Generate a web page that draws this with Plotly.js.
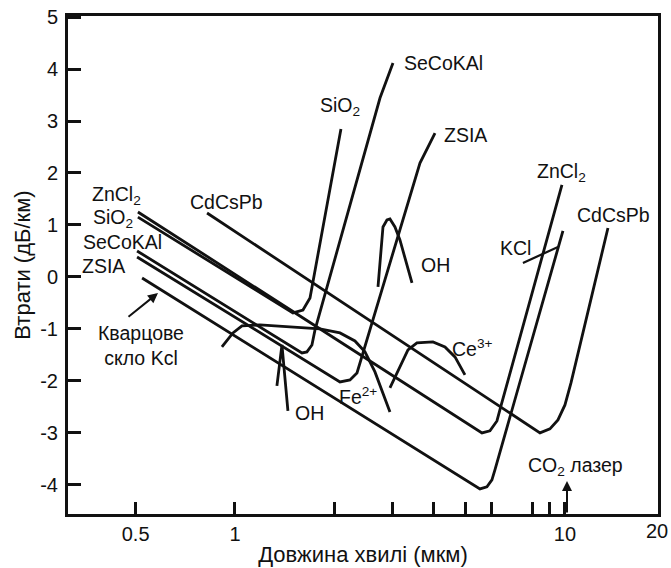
<!DOCTYPE html>
<html>
<head>
<meta charset="utf-8">
<script src="https://cdn.plot.ly/plotly-3.0.1.min.js"></script>
<style>html,body{margin:0;padding:0;background:#fff;}#chart{width:671px;height:568px;}</style>
</head>
<body>
<div id="chart"></div>
<script>
// Wavelength (µm) / log10 loss (dB/km) curves
const znCl2X = [0.508, 5.225, 5.605, 5.926, 6.222, 6.399, 9.793];
const znCl2Y = [1.25, -2.885, -3.0, -2.96, -2.77, -2.48, 1.77];

const sio2X = [0.508, 1.398, 1.499, 1.607, 1.688, 2.095];
const sio2Y = [1.15, -0.577, -0.692, -0.635, -0.404, 2.846];

const seCoKAlX = [0.505, 1.488, 1.596, 1.652, 1.711, 1.748, 2.693, 2.751, 3.012];
const seCoKAlY = [0.50, -1.346, -1.462, -1.442, -1.308, -1.019, 3.269, 3.442, 4.115];

const zsiaX = [0.505, 1.941, 2.081, 2.231, 2.343, 3.636, 4.038];
const zsiaY = [0.385, -1.904, -2.019, -1.981, -1.846, 2.192, 2.769];

const kclX = [0.523, 5.153, 5.527, 5.802, 6.008, 6.135, 9.861];
const kclY = [-0.02, -3.962, -4.077, -4.038, -3.904, -3.712, 0.885];

const cdCsPbX = [0.823, 7.833, 8.401, 9.006, 9.524, 10.0, 10.43, 13.50];
const cdCsPbY = [1.23, -2.875, -3.0, -2.923, -2.75, -2.462, -2.038, 0.942];

const ohUpperX = [2.713, 2.809, 2.888, 2.949, 3.054, 3.162, 3.439];
const ohUpperY = [-0.192, 0.962, 1.096, 1.115, 0.962, 0.712, -0.115];

const ohLowerX = [1.340, 1.388, 1.447];
const ohLowerY = [-2.096, -1.308, -2.577];

const fe2X = [0.913, 0.986, 1.050, 1.191, 1.809, 2.081, 2.310, 2.477, 2.656, 2.949];
const fe2Y = [-1.346, -1.077, -0.942, -0.923, -1.0, -1.077, -1.231, -1.442, -1.827, -2.596];

const ce3X = [2.949, 3.162, 3.344, 3.560, 3.981, 4.329, 4.642, 4.977];
const ce3Y = [-2.135, -1.731, -1.404, -1.269, -1.25, -1.346, -1.538, -1.885];

const kclPointerX = [7.459, 9.524];
const kclPointerY = [0.269, 0.577];

// Axis ticks
const xTickVals = [0.5, 1, 10];
const xTickText = ['0.5', '1', '10'];
const xMinorTickVals = [2, 3, 4, 5, 6, 8, 9];
const yTickVals = [-4, -3, -2, -1, 0, 1, 2, 3, 4, 5];
const yTickText = ['-4', '-3', '-2', '-1', '0', '1', '2', '3', '4', '5'];

const curves = [
  [znCl2X, znCl2Y], [sio2X, sio2Y], [seCoKAlX, seCoKAlY], [zsiaX, zsiaY],
  [kclX, kclY], [cdCsPbX, cdCsPbY], [ohUpperX, ohUpperY], [ohLowerX, ohLowerY],
  [fe2X, fe2Y], [ce3X, ce3Y]
];

const traces = curves.map(c => ({
  x: c[0], y: c[1], type: 'scatter', mode: 'lines',
  line: {color: '#111', width: 2.8}, hoverinfo: 'skip', showlegend: false
}));
traces.push({x: kclPointerX, y: kclPointerY, type: 'scatter', mode: 'lines',
  line: {color: '#111', width: 2.2}, hoverinfo: 'skip', showlegend: false});

const FONT = 'Liberation Sans, Arial, Helvetica, sans-serif';

function lab(text, px, py, size) {
  return {text: text, xref: 'paper', yref: 'paper',
    x: (px - 68) / 590, y: (514 - py) / 498,
    xanchor: 'center', yanchor: 'middle', showarrow: false,
    font: {family: FONT, size: size || 19.5, color: '#111'}};
}

const annotations = [
  lab('SeCoKAl', 443, 63),
  lab('SiO<sub>2</sub>', 340, 106),
  lab('ZSIA', 465, 135),
  lab('ZnCl<sub>2</sub>', 561, 172),
  lab('CdCsPb', 613, 215),
  lab('KCl', 515, 248),
  lab('OH', 435, 265),
  lab('Ce<sup>3+</sup>', 473, 348),
  lab('Fe<sup>2+</sup>', 358, 396),
  lab('OH', 309, 413),
  lab('ZnCl<sub>2</sub>', 116, 195),
  lab('SiO<sub>2</sub>', 113, 218),
  lab('SeCoKAl', 122, 242),
  lab('ZSIA', 103, 266),
  lab('CdCsPb', 226, 202),
  lab('Кварцове<br>скло Kcl', 141, 345),
  lab('CO<sub>2</sub> лазер', 575, 466),
  lab('20', 657, 531, 20),
  {text: '', xref: 'paper', yref: 'paper', x: (158 - 68) / 590, y: (514 - 293) / 498,
   ax: -31, ay: 25, showarrow: true, arrowhead: 2, arrowsize: 1, arrowwidth: 2, arrowcolor: '#111'},
  {text: '', xref: 'paper', yref: 'paper', x: (567 - 68) / 590, y: (514 - 481) / 498,
   ax: 0, ay: 33, showarrow: true, arrowhead: 2, arrowsize: 1, arrowwidth: 2, arrowcolor: '#111'}
];

const layout = {
  width: 671, height: 568,
  margin: {l: 68, r: 13, t: 16, b: 54},
  paper_bgcolor: '#fff', plot_bgcolor: '#fff',
  font: {family: FONT, color: '#111', size: 18},
  showlegend: false,
  xaxis: {
    type: 'log', range: [-0.506, 1.282],
    tickmode: 'array', tickvals: xTickVals, ticktext: xTickText,
    ticks: 'inside', ticklen: 12, tickwidth: 3, tickcolor: '#111',
    minor: {tickmode: 'array', tickvals: xMinorTickVals, ticks: 'inside', ticklen: 12,
            tickwidth: 3, tickcolor: '#111', showgrid: false},
    showline: true, linewidth: 3, linecolor: '#111', mirror: true,
    showgrid: false, zeroline: false,
    tickfont: {family: FONT, size: 20, color: '#111'},
    title: {text: 'Довжина хвилі (мкм)', font: {family: FONT, size: 22, color: '#111'}, standoff: 3}
  },
  yaxis: {
    range: [-4.56, 5.02],
    tickmode: 'array', tickvals: yTickVals, ticktext: yTickText,
    ticks: 'inside', ticklen: 13, tickwidth: 3, tickcolor: '#111',
    ticklabelstandoff: 3,
    showline: true, linewidth: 3, linecolor: '#111', mirror: true,
    showgrid: false, zeroline: false,
    tickfont: {family: FONT, size: 20, color: '#111'},
    title: {text: 'Втрати (дБ/км)', font: {family: FONT, size: 22, color: '#111'}, standoff: 4}
  },
  annotations: annotations
};

Plotly.newPlot('chart', traces, layout, {staticPlot: true, displayModeBar: false});
</script>
</body>
</html>
